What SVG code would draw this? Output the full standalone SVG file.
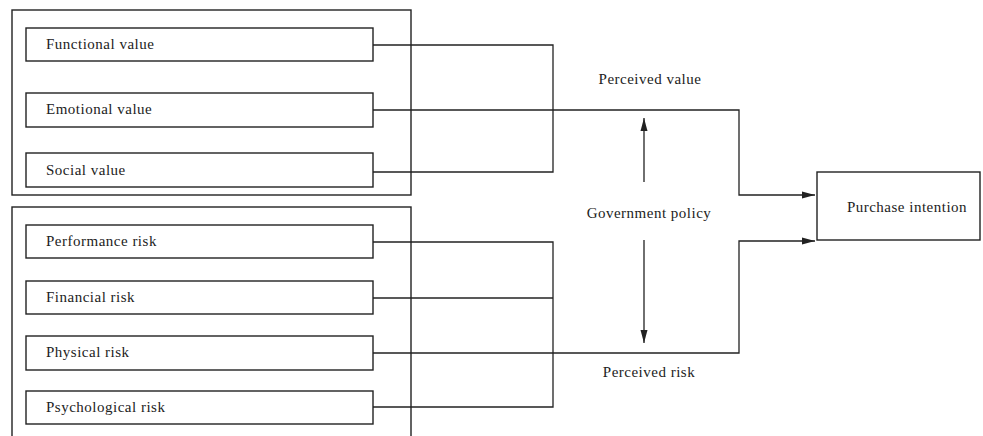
<svg xmlns="http://www.w3.org/2000/svg" width="983" height="436" viewBox="0 0 983 436">
<defs>
<style>
.box{fill:#fff;stroke:#222;stroke-width:1.4}
.frame{fill:none;stroke:#222;stroke-width:1.4}
.t{font-family:"Liberation Serif","Times New Roman",serif;font-size:15px;letter-spacing:0.5px;fill:#222}
.c{fill:none;stroke:#222;stroke-width:1.3}
</style>
<marker id="ah" viewBox="0 0 13 8" refX="13" refY="4" markerWidth="13" markerHeight="8" markerUnits="userSpaceOnUse" orient="auto">
<path d="M0,0.5 L13,4 L0,7.5 Z" fill="#222"/>
</marker>
</defs>
<rect width="983" height="436" fill="#fff"/>
<g id="value-group"><rect class="frame" x="12" y="10" width="399" height="185"/></g>
<g id="risk-group"><rect class="frame" x="12" y="207" width="399" height="240"/></g>
<g id="functional"><rect class="box" x="26" y="28" width="347" height="33"/><text class="t" x="46" y="49">Functional value</text></g>
<g id="emotional"><rect class="box" x="26" y="93" width="347" height="34"/><text class="t" x="46" y="114">Emotional value</text></g>
<g id="social"><rect class="box" x="26" y="153" width="347" height="34"/><text class="t" x="46" y="175">Social value</text></g>
<g id="performance"><rect class="box" x="26" y="225" width="347" height="33"/><text class="t" x="46" y="246">Performance risk</text></g>
<g id="financial"><rect class="box" x="26" y="281" width="347" height="33"/><text class="t" x="46" y="302">Financial risk</text></g>
<g id="physical"><rect class="box" x="26" y="336" width="347" height="34"/><text class="t" x="46" y="357">Physical risk</text></g>
<g id="psychological"><rect class="box" x="26" y="391" width="347" height="33"/><text class="t" x="46" y="412">Psychological risk</text></g>
<g id="purchase"><rect class="box" x="817" y="172" width="163" height="68"/><text class="t" x="907" y="212" text-anchor="middle">Purchase intention</text></g>
<g id="labels">
<text class="t" x="650" y="84" text-anchor="middle">Perceived value</text>
<text class="t" x="649" y="218" text-anchor="middle">Government policy</text>
<text class="t" x="649" y="377" text-anchor="middle">Perceived risk</text>
</g>
<g id="connectors">
<path class="c" d="M373,45 H553 V172 H373"/>
<path class="c" d="M373,110 H739 V195 H815" marker-end="url(#ah)"/>
<path class="c" d="M373,242 H553 V407 H373"/>
<path class="c" d="M373,298 H553"/>
<path class="c" d="M373,353 H739 V241 H815" marker-end="url(#ah)"/>
<path class="c" d="M644,182 V118" marker-end="url(#ah)"/>
<path class="c" d="M644,240 V343" marker-end="url(#ah)"/>
</g>
</svg>
